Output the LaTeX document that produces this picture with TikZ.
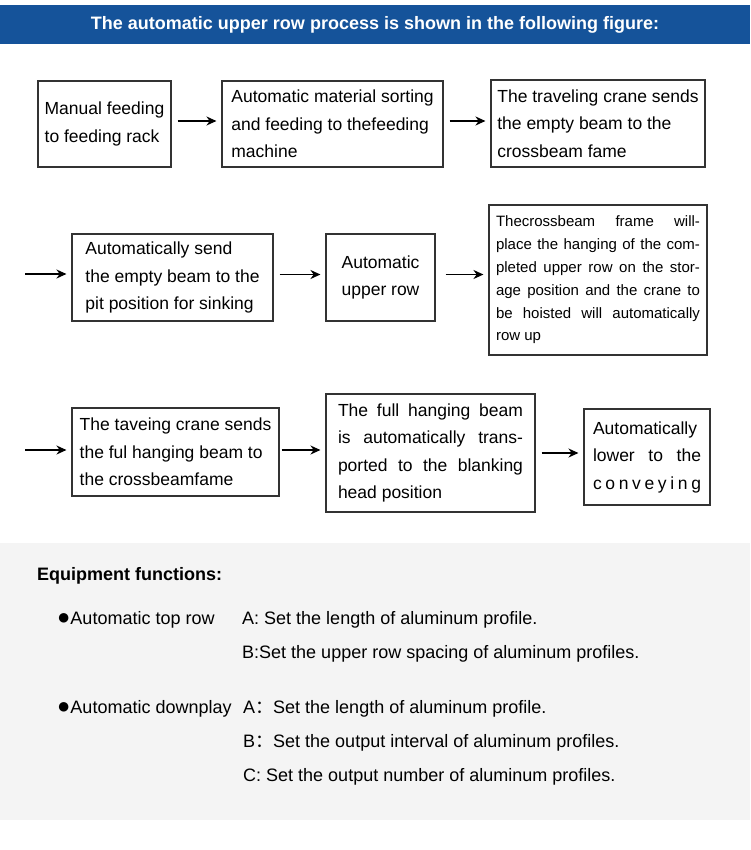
\documentclass[tikz,border=0pt]{standalone}
\usepackage{fontspec}
\setmainfont{Liberation Sans}
\newfontfamily\cjk{Noto Sans CJK SC}
\usetikzlibrary{arrows.meta}
\definecolor{headblue}{HTML}{15539A}
\definecolor{panelgray}{HTML}{F4F4F4}
\definecolor{boxline}{HTML}{333333}
\newcommand\bulletmark{{\fontsize{22}{22}\selectfont ●}}

\begin{document}
\begin{tikzpicture}[x=1pt, y=-1pt,
    box/.style={draw=boxline, line width=1.1pt, align=left, inner sep=0pt,
        font=\fontsize{17.5}{27.5}\selectfont},
    flow/.style={-{Stealth[length=10pt, width=9pt]}, line width=1.8pt,
        shorten <=6pt, shorten >=5pt},
    item/.style={anchor=base west, inner sep=0pt, font=\fontsize{18}{20}\selectfont}]
    \useasboundingbox (0,0) rectangle (750,850);
    % header band and lower panel
    \fill[headblue] (0,5) rectangle (750,44);
    \fill[panelgray] (0,543) rectangle (750,820);
    \node[text=white, font=\bfseries\fontsize{18}{20}\selectfont] (title) at (375,25)
        {The automatic upper row process is shown in the following figure:};

    % first row
    \node[box, minimum width=133, minimum height=86] (feed) at (104.5,124)
        {Manual feeding\\to feeding rack};
    \node[box, minimum width=221, minimum height=86] (sort) at (332.5,124)
        {Automatic material sorting\\and feeding to thefeeding\\machine};
    \node[box, minimum width=214, minimum height=87] (crane) at (598,123.5)
        {The traveling crane sends\\the empty beam to the\\crossbeam fame};
    \draw[flow] ([yshift=3pt]feed.east) -- ([yshift=3pt]sort.west);
    \draw[flow] ([yshift=3pt]sort.east) -- ([yshift=3pt]sort.east -| crane.west);

    % second row
    \coordinate (in2) at (25,274);
    \node[box, minimum width=201, minimum height=87] (pit) at (172.5,277.5)
        {Automatically send\\the empty beam to the\\pit position for sinking};
    \node[box, align=center, minimum width=109, minimum height=87] (upper) at (380.5,277.5)
        {Automatic\\upper row};
    \node[box, font=\fontsize{15}{22.8}\selectfont, minimum width=218, minimum height=150]
        (hoist) at (598,280)
        {\makebox[204pt][s]{Thecrossbeam frame will-}\\
         \makebox[204pt][s]{place the hanging of the com-}\\
         \makebox[204pt][s]{pleted upper row on the stor-}\\
         \makebox[204pt][s]{age position and the crane to}\\
         \makebox[204pt][s]{be hoisted will automatically}\\
         row up};
    \draw[flow, shorten <=0pt] (in2) -- (in2 -| pit.west);
    \draw[flow] ([yshift=3pt]pit.east) -- ([yshift=3pt]upper.west);
    \draw[flow, shorten <=10pt] ([yshift=3pt]upper.east) -- ([yshift=3pt]upper.east -| hoist.west);

    % third row
    \coordinate (in3) at (25,450);
    \node[box, minimum width=207, minimum height=88] (send) at (175.5,452)
        {The taveing crane sends\\the ful hanging beam to\\the crossbeamfame};
    \node[box, minimum width=209, minimum height=118] (trans) at (430.5,453)
        {\makebox[185pt][s]{The full hanging beam}\\
         \makebox[185pt][s]{is automatically trans-}\\
         \makebox[185pt][s]{ported to the blanking}\\
         head position};
    \node[box, minimum width=126, minimum height=96] (lower) at (647,457)
        {\makebox[108pt][s]{Automatically}\\
         \makebox[108pt][s]{lower to the}\\
         \makebox[108pt][s]{c o n v e y i n g}};
    \draw[flow, shorten <=0pt] (in3) -- (in3 -| send.west);
    \draw[flow, shorten <=2pt] ([yshift=2pt]send.east) -- ([yshift=2pt]send.east -| trans.west);
    \draw[flow] (trans.east) -- (trans.east -| lower.west);

    % equipment functions
    \node[item, font=\bfseries\fontsize{18}{20}\selectfont] (eqtitle) at (37,580) {Equipment functions:};
    \node[item] (top) at (57,624) {\bulletmark Automatic top row};
    \node[item] (topA) at (242,624) {A: Set the length of aluminum profile.};
    \node[item] (topB) at (242,658) {B:Set the upper row spacing of aluminum profiles.};
    \node[item] (down) at (57,713) {\bulletmark Automatic downplay};
    \node[item] (downA) at (243,713) {A{\cjk ：}Set the length of aluminum profile.};
    \node[item] (downB) at (243,747) {B{\cjk ：}Set the output interval of aluminum profiles.};
    \node[item] (downC) at (243,781) {C: Set the output number of aluminum profiles.};
\end{tikzpicture}
\end{document}
